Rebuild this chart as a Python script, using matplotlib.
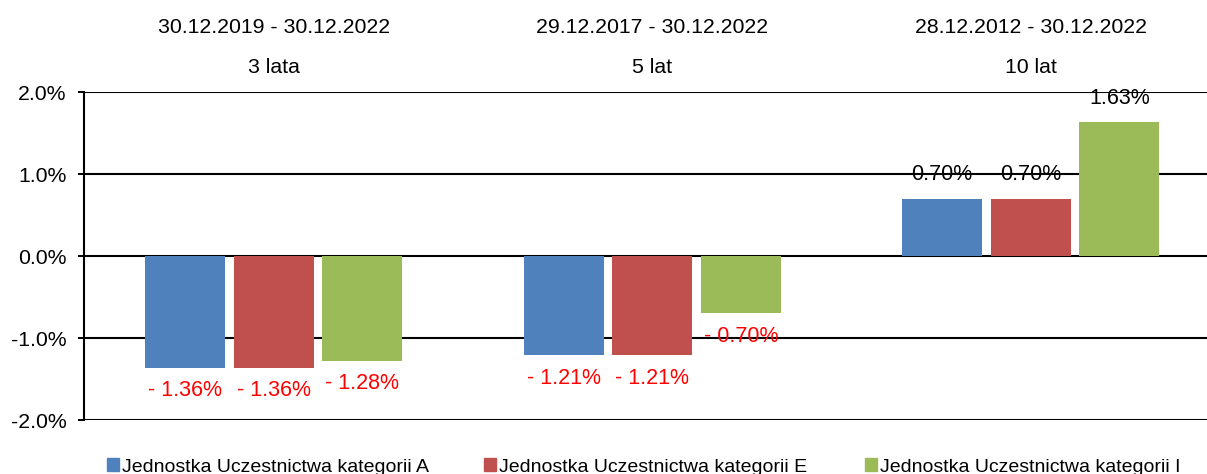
import matplotlib
matplotlib.use("Agg")
import matplotlib.pyplot as plt
import matplotlib.transforms as mtransforms
from matplotlib.patches import Patch
import numpy as np

plt.rcParams["font.family"] = ["Liberation Sans", "DejaVu Sans"]

periods = ["30.12.2019 - 30.12.2022", "29.12.2017 - 30.12.2022", "28.12.2012 - 30.12.2022"]
spans = ["3 lata", "5 lat", "10 lat"]
series_names = ["Jednostka Uczestnictwa kategorii A",
                "Jednostka Uczestnictwa kategorii E",
                "Jednostka Uczestnictwa kategorii I"]
values_A = [-1.36, -1.21, 0.70]
values_E = [-1.36, -1.21, 0.70]
values_I = [-1.28, -0.70, 1.63]
colors = ["#4F81BD", "#C0504D", "#9BBB59"]

W, H = 1207, 474
fig = plt.figure(figsize=(W / 100, H / 100), dpi=100)
ax = fig.add_axes([84.5 / W, 54 / H, (W - 84.5) / W, 328 / H])

x = np.arange(len(periods))
width = 0.212
pitch = 0.234
all_series = [values_A, values_E, values_I]
for i, (vals, col) in enumerate(zip(all_series, colors)):
    pos = x + (i - 1) * pitch
    ax.bar(pos, vals, width, color=col, zorder=3)
    for px, v in zip(pos, vals):
        if v < 0:
            ax.annotate(f"- {abs(v):.2f}%", (px, v), xytext=(0, -16.5),
                        textcoords="offset points", ha="center", va="center",
                        color="#FF0000", fontsize=15.5, zorder=4)
        else:
            ax.annotate(f"{v:.2f}%", (px, v), xytext=(0, 17.5),
                        textcoords="offset points", ha="center", va="center",
                        color="black", fontsize=15.5, zorder=4)

ax.set_ylim(-2, 2)
ax.set_xlim(-0.5, 2.5 - 13 / 378.5)
ax.set_yticks([-2, -1, 0, 1, 2])
ax.set_yticklabels([f"{t:.1f}%" for t in [-2, -1, 0, 1, 2]], fontsize=15.3)
ax.set_xticks([])
ax.tick_params(axis="y", length=4.5, width=1.4, pad=8.5, color="black")
ax.grid(axis="y", color="black", linewidth=1.5, zorder=1)
for s in ["top", "right", "bottom"]:
    ax.spines[s].set_visible(False)
ax.spines["left"].set_linewidth(1.5)

trans = mtransforms.blended_transform_factory(ax.transData, ax.transAxes)
for xi, p, s in zip(x, periods, spans):
    ax.text(xi, 1.198, p, transform=trans, ha="center", va="center", fontsize=15.3)
    ax.text(xi, 1.076, s, transform=trans, ha="center", va="center", fontsize=15.3)

legend_x = [107, 484, 865]
for lx, name, col in zip(legend_x, series_names, colors):
    leg = fig.legend(handles=[Patch(color=col)], labels=[name], loc="center left",
                     bbox_to_anchor=(lx / W, 7 / H), frameon=False, fontsize=14,
                     handlelength=0.6, handleheight=0.6, handletextpad=0.15,
                     borderpad=0, borderaxespad=0)

fig.savefig("out.png", dpi=100)
